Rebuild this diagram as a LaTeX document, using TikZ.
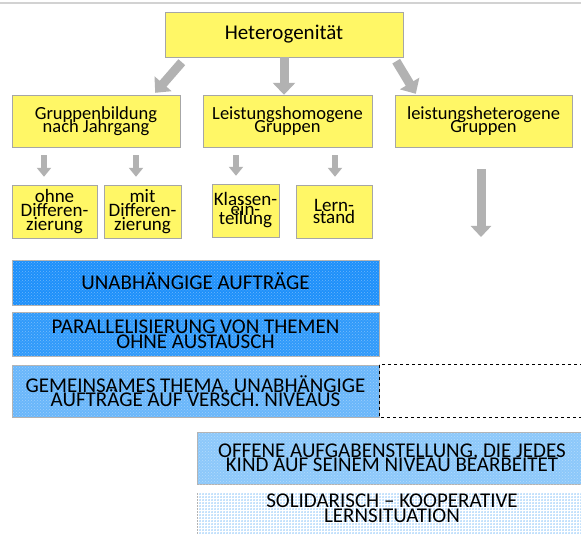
\documentclass[tikz,border=0pt]{standalone}
\usepackage{fontspec}
\setmainfont{Carlito}
\usetikzlibrary{arrows.meta,calc,patterns}
\definecolor{blueA}{RGB}{30,144,250}
\definecolor{blueB}{RGB}{48,154,250}
\definecolor{blueC}{RGB}{105,182,250}
\definecolor{blueD}{RGB}{140,200,250}
\definecolor{blueE}{RGB}{195,225,252}
\lineskiplimit=-40pt

\begin{document}
\begin{tikzpicture}[x=1pt,y=-1pt,
    every node/.style={inner sep=0pt,align=center},
    yellowbox/.style={draw=gray!70,fill=yellow!60},
    smallbox/.style={yellowbox,minimum height=53pt,font=\fontsize{19}{14}\selectfont},
    bluebox/.style={draw=gray!60,minimum height=#1,font=\fontsize{21}{14.5}\selectfont,
      postaction={pattern=crosshatch dots,pattern color=white,fill opacity=.35}},
    fatarrow/.style={draw=gray!60,line width=9pt,-{Triangle[width=22pt,length=12pt]}},
    thinarrow/.style={draw=gray!60,line width=6pt,-{Triangle[width=14pt,length=9pt]}}]

  \useasboundingbox (0,0) rectangle (581,534);
  \draw[gray!35,line width=1.5pt] (0,3) -- (581,3);

  % top
  \node[yellowbox,minimum width=238pt,minimum height=45pt,font=\fontsize{21}{21}\selectfont]
    (H) at (284,34.5) {Heterogenität};

  % second row
  \begin{scope}[every node/.append style={yellowbox,minimum height=52pt,font=\fontsize{18.5}{13}\selectfont}]
    \node[minimum width=168pt] (G1) at (96,121) {Gruppenbildung\\nach Jahrgang};
    \node[minimum width=169pt] (G2) at (287.5,121) {Leistungshomogene\\Gruppen};
    \node[minimum width=177pt] (G3) at (483.5,121) {leistungsheterogene\\Gruppen};
  \end{scope}

  % third row
  \node[smallbox,minimum width=85pt] (a) at (54.5,211.5) {ohne\\Differen-\\zierung};
  \node[smallbox,minimum width=77pt] (b) at (142.5,211.5) {mit\\Differen-\\zierung};
  \node[smallbox,minimum width=67pt,font=\fontsize{19}{9.5}\selectfont] (c) at (245.5,210.5) {Klassen-\\ein-\\teilung};
  \node[smallbox,minimum width=76pt,font=\fontsize{19}{12}\selectfont] (d) at (334,211.5) {Lern-\\stand};
  \coordinate (E) at (481,237);

  \draw[fatarrow] ([xshift=17pt,yshift=-5pt]H.south west) -- ([xshift=-25pt,yshift=2pt]G1.north east);
  \draw[fatarrow] (H.south) -- (H.south |- G2.north);
  \draw[fatarrow] ([xshift=-7pt,yshift=-4pt]H.south east) -- ([xshift=21pt,yshift=1pt]G3.north west);

  \draw[thinarrow] ($(G1.south)+(-52,8)$) -- ($(a.north)+(-10.5,-8)$);
  \draw[thinarrow] ($(G1.south)+(40,8)$) -- ($(b.north)+(-6.5,-8)$);
  \draw[thinarrow] ($(G2.south)+(-51.5,8)$) -- ($(c.north)+(-9.5,-8)$);
  \draw[thinarrow] ($(G2.south)+(47.5,8)$) -- ($(d.north)+(1,-8)$);
  \draw[fatarrow,-{Triangle[width=20pt,length=11pt]}] ($(G3.south)+(-2.5,22)$) -- (E);

  % blue boxes
  \node[bluebox=45pt,fill=blueA,minimum width=367pt,text depth=2pt] (U1) at (195.5,282.5) {UNABHÄNGIGE AUFTRÄGE};
  \node[bluebox=44pt,fill=blueB,minimum width=367pt] (U2) at (195.5,334.5) {PARALLELISIERUNG VON THEMEN\\OHNE AUSTAUSCH};
  \node[bluebox=52pt,fill=blueC,minimum width=367pt] (U3) at (195.5,391) {GEMEINSAMES THEMA, UNABHÄNGIGE\\AUFTRÄGE AUF VERSCH. NIVEAUS};
  \draw[dashed,line width=.8pt] (U3.north east) rectangle (600,417);
  \node[bluebox=52pt,fill=blueD,minimum width=390pt] (U4) at (392,458) {OFFENE AUFGABENSTELLUNG, DIE JEDES\\KIND AUF SEINEM NIVEAU BEARBEITET};
  \node[bluebox=50pt,fill=blueE,minimum width=390pt,text depth=18pt,
    postaction={pattern=grid,pattern color=white}] (U5) at (392,517) {SOLIDARISCH – KOOPERATIVE\\LERNSITUATION};
\end{tikzpicture}
\end{document}
